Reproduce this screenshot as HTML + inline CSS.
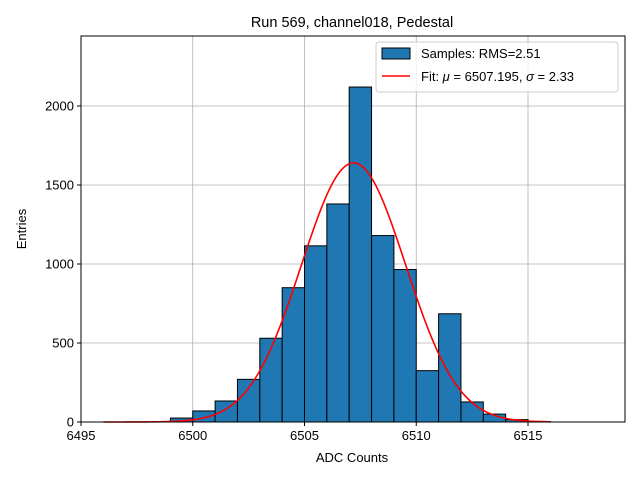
<!DOCTYPE html>
<html><head><meta charset="utf-8"><style>
body{margin:0;background:#fff;font-family:"Liberation Sans","DejaVu Sans",sans-serif}
</style></head><body>
<svg id="chart" width="640" height="480" xmlns="http://www.w3.org/2000/svg">
<g id="grid"></g>
<g id="bars"></g>
<g id="fit"></g>
<g id="axes"></g>
<text x="352" y="27" text-anchor="middle" font-size="14.5">Run 569, channel018, Pedestal</text>
<text x="352" y="462" text-anchor="middle" font-size="13">ADC Counts</text>
<text x="26" y="229" text-anchor="middle" font-size="13" transform="rotate(-90 26 229)">Entries</text>
<g>
<rect x="376" y="42" width="242" height="50" rx="3" fill="#fff" fill-opacity="0.8" stroke="#ccc"/>
<rect x="382" y="48" width="28" height="11" fill="#1f77b4" stroke="#000"/>
<text x="421" y="58" font-size="13">Samples: RMS=2.51</text>
<line x1="382" y1="76" x2="410" y2="76" stroke="red" stroke-width="1.6"/>
<text x="421" y="81" font-size="13">Fit: <tspan font-style="italic">μ</tspan> = 6507.195, <tspan font-style="italic">σ</tspan> = 2.33</text>
</g>
</svg>
<script>
const binEdgesStart = [6499,6500,6501,6502,6503,6504,6505,6506,6507,6508,6509,6510,6511,6512,6513,6514,6515];
const counts = [25,70,133,270,530,850,1115,1380,2120,1180,965,325,685,127,50,15,3];
const xTicks = [6495,6500,6505,6510,6515];
const yTicks = [0,500,1000,1500,2000];
const fitMu = 6507.195, fitSigma = 2.33, fitAmp = 1640;
const fitRange = [6496,6516];
const L=81,R=625,T=36,B=422,xmin=6495,xmax=6519.34,ymax=2443;
const X=v=>L+(v-xmin)/(xmax-xmin)*(R-L);
const Y=v=>B-v/ymax*(B-T);
const NS="http://www.w3.org/2000/svg";
function mk(p,t,a){const e=document.createElementNS(NS,t);for(const k in a)e.setAttribute(k,a[k]);document.getElementById(p).appendChild(e);return e;}
xTicks.forEach(t=>{const g=mk('grid','line',{x1:X(t),x2:X(t),y1:T,y2:B,stroke:'#b0b0b0','stroke-width':0.8});


const k=mk('axes','line',{x1:X(t),x2:X(t),y1:B,y2:B+4,stroke:'#000'});


const l=mk('axes','text',{x:X(t),y:B+18,'text-anchor':'middle','font-size':13});l.textContent=t;

});
yTicks.forEach(t=>{const g=mk('grid','line',{x1:L,x2:R,y1:Y(t),y2:Y(t),stroke:'#b0b0b0','stroke-width':0.8});


const k=mk('axes','line',{x1:L-4,x2:L,y1:Y(t),y2:Y(t),stroke:'#000'});


const l=mk('axes','text',{x:L-7,y:Y(t)+4.5,'text-anchor':'end','font-size':13});l.textContent=t;

});
binEdgesStart.forEach((b,i)=>{const r=mk('bars','rect',{x:X(b),y:Y(counts[i]),width:X(b+1)-X(b),height:B-Y(counts[i]),fill:'#1f77b4',stroke:'#000','stroke-width':1});

});
let d='';for(let i=0;i<=200;i++){const x=fitRange[0]+(fitRange[1]-fitRange[0])*i/200;const y=fitAmp*Math.exp(-0.5*((x-fitMu)/fitSigma)**2);d+=(i?'L':'M')+X(x).toFixed(2)+' '+Y(y).toFixed(2);}
const p=mk('fit','path',{d:d,fill:'none',stroke:'red','stroke-width':1.6});


const f=mk('axes','rect',{x:L,y:T,width:R-L,height:B-T,fill:'none',stroke:'#000','stroke-width':1});


</script>
</body></html>
